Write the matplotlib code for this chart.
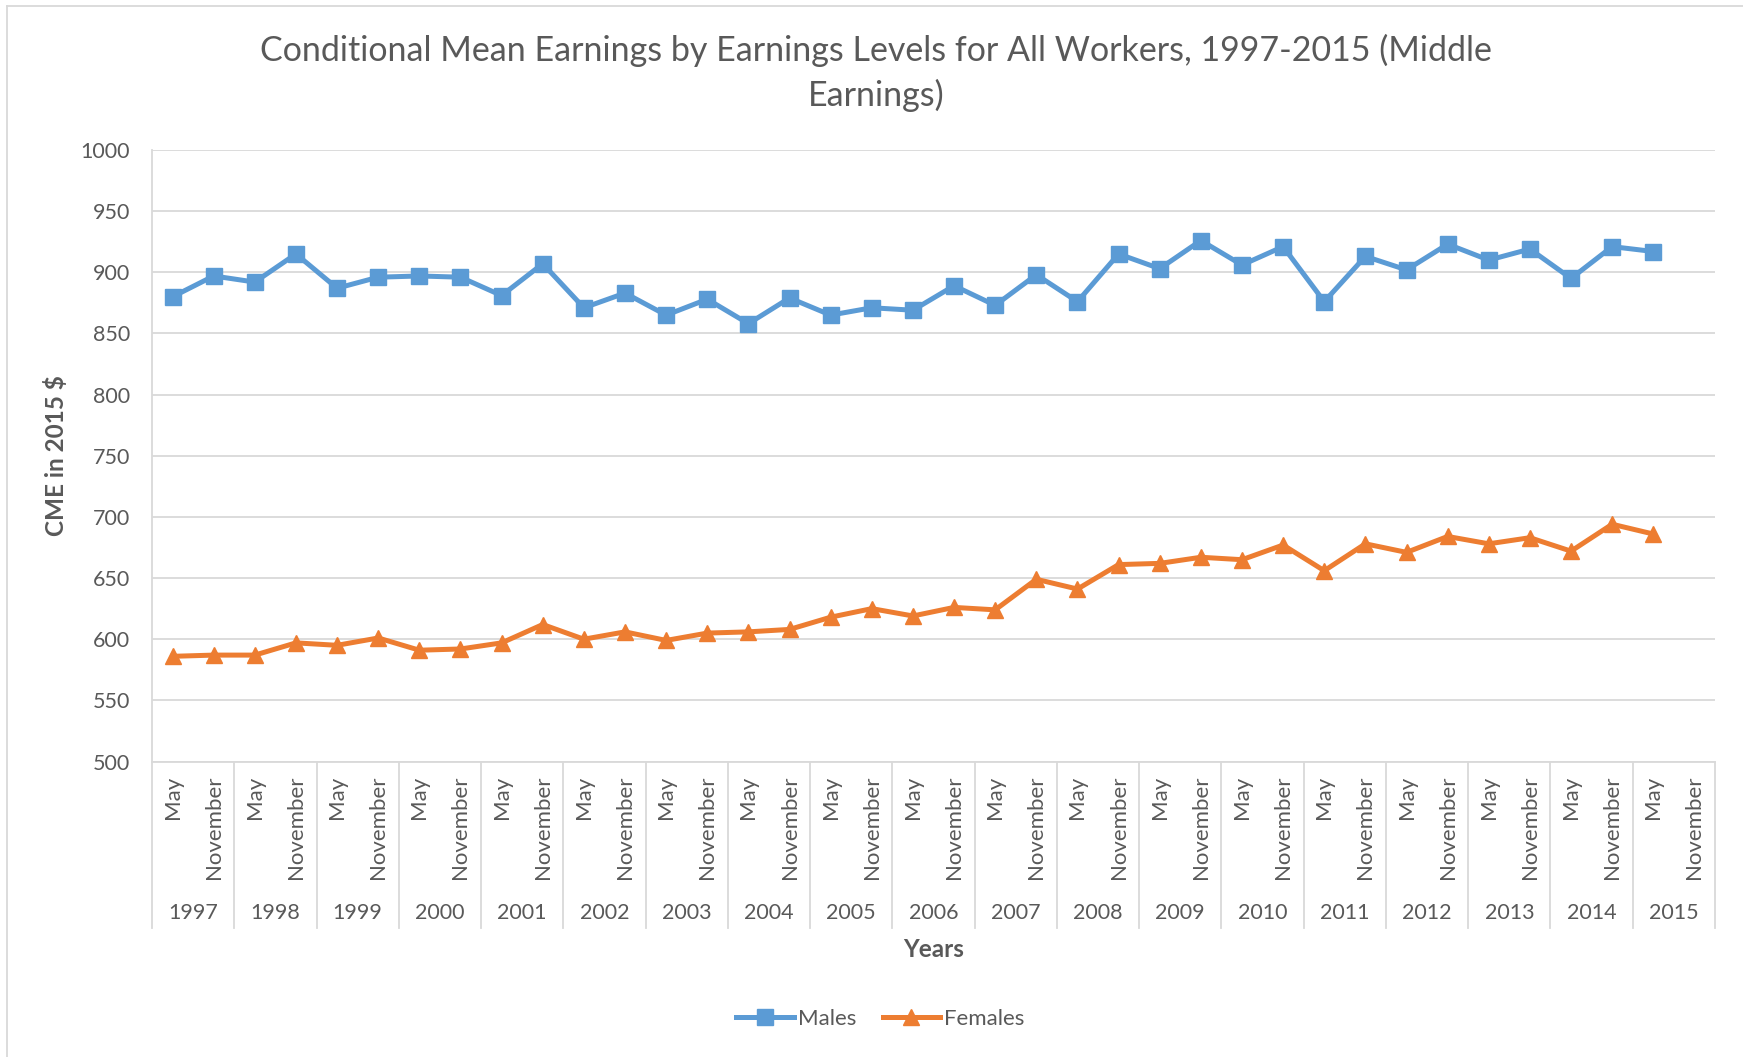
import matplotlib
matplotlib.use("Agg")
import matplotlib.pyplot as plt
from matplotlib.lines import Line2D
import matplotlib.transforms as mtransforms

plt.rcParams['font.family'] = ['Lato', 'DejaVu Sans']

years = [str(y) for y in range(1997, 2016)]
months = ["May", "November"]
categories = [(y, m) for y in years for m in months]

males = [880, 897, 892, 915, 887, 896, 897, 896, 881, 907,
         871, 883, 865, 878, 858, 879, 865, 871, 869, 889,
         873, 898, 876, 915, 903, 926, 906, 921, 876, 913,
         902, 923, 910, 919, 895, 921, 917]
females = [586, 587, 587, 597, 595, 601, 591, 592, 597, 612,
           600, 606, 599, 605, 606, 608, 618, 625, 619, 626,
           624, 649, 641, 661, 662, 667, 665, 677, 656, 678,
           671, 684, 678, 683, 672, 694, 686]

yticks = list(range(500, 1001, 50))

TXT = '#595959'
GRID = '#D9D9D9'
BLUE = '#5B9BD5'
ORANGE = '#ED7D31'

W, H = 1743, 1057
fig = plt.figure(figsize=(W / 100, H / 100), dpi=100)
ax = fig.add_axes([152 / W, 1 - 761.5 / H, (1715 - 152) / W, (761.5 - 150) / H])

n = len(categories)
xs = list(range(n))
ax.plot(xs[:len(males)], males, color=BLUE, lw=3.6, marker='s', ms=11,
        label='Males', solid_joinstyle='round', zorder=3)
ax.plot(xs[:len(females)], females, color=ORANGE, lw=3.6, marker='^', ms=12,
        label='Females', solid_joinstyle='round', zorder=3)

ax.set_xlim(-0.5, n - 0.5)
ax.set_ylim(500, 1000)
ax.set_yticks(yticks)
ax.yaxis.grid(True, color=GRID, lw=1.3)
ax.set_axisbelow(True)
for s in ['top', 'right']:
    ax.spines[s].set_visible(False)
ax.spines['left'].set_color(GRID)
ax.spines['left'].set_linewidth(1.3)
ax.spines['bottom'].set_color(GRID)
ax.spines['bottom'].set_linewidth(1.3)
ax.tick_params(axis='y', length=0, pad=16, labelsize=15.5, labelcolor=TXT)
ax.set_xticks(xs)
ax.set_xticklabels([m for _, m in categories], rotation=90, fontsize=16, color=TXT)
ax.tick_params(axis='x', length=0, pad=10)

trans = mtransforms.blended_transform_factory(ax.transData, ax.transAxes)
for i, y in enumerate(years):
    ax.text(2 * i + 0.5, -0.248, y, transform=trans, ha='center', va='center',
            fontsize=15.5, color=TXT)
for k in range(len(years) + 1):
    ax.plot([2 * k - 0.5, 2 * k - 0.5], [0, -0.272], transform=trans,
            color=GRID, lw=1.3, clip_on=False)

ax.text(0.5, -0.308, 'Years', transform=ax.transAxes, ha='center', va='center',
        fontsize=17.5, fontweight='bold', color=TXT)
fig.text(55.6 / W, 1 - 456 / H, 'CME in 2015 $', rotation=90, ha='center', va='center',
         fontsize=17.5, fontweight='bold', color=TXT)

fig.text(0.5026, 1 - 73 / H,
         'Conditional Mean Earnings by Earnings Levels for All Workers, 1997-2015 (Middle\nEarnings)',
         ha='center', va='center', fontsize=24.5, color=TXT, linespacing=1.45)

handles = [Line2D([], [], color=BLUE, lw=3.6, marker='s', ms=11),
           Line2D([], [], color=ORANGE, lw=3.6, marker='^', ms=12)]
fig.legend(handles, ['Males', 'Females'], loc='center', bbox_to_anchor=(0.505, 1 - 1019 / H),
           ncol=2, frameon=False, fontsize=16, labelcolor=TXT, handlelength=2.6,
           handletextpad=0.15, columnspacing=1.2)

# outer chart border
fig.add_artist(Line2D([7 / W, 7 / W], [0, 1 - 6 / H], transform=fig.transFigure, color=GRID, lw=1.3))
fig.add_artist(Line2D([7 / W, 1], [1 - 6 / H, 1 - 6 / H], transform=fig.transFigure, color=GRID, lw=1.3))

fig.savefig('out.png', dpi=100, facecolor='white')
